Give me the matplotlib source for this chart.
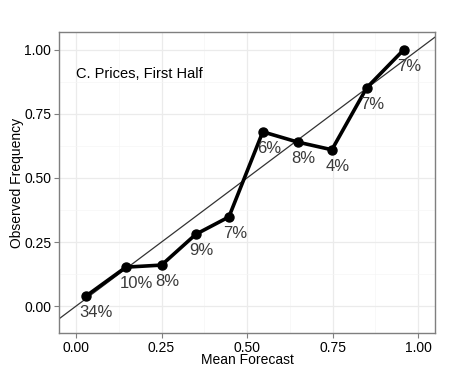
import matplotlib
matplotlib.use('Agg')
import matplotlib.pyplot as plt

plt.rcParams['font.family'] = ['Liberation Sans', 'DejaVu Sans']

# calibration data (mean forecast vs observed frequency)
forecast = [0.029, 0.146, 0.25, 0.35, 0.447, 0.546, 0.648, 0.748, 0.85, 0.958]
observed = [0.039, 0.152, 0.16, 0.28, 0.348, 0.68, 0.64, 0.61, 0.852, 1.0]
share = ['34%', '10%', '8%', '9%', '7%', '6%', '8%', '4%', '7%', '7%']
ticks = [0.0, 0.25, 0.5, 0.75, 1.0]
tick_labels = ['0.00', '0.25', '0.50', '0.75', '1.00']

fig = plt.figure(figsize=(4.5, 3.75), dpi=100)
ax = fig.add_axes([0.131, 0.112, 0.836, 0.803])

# grid like theme_bw
ax.set_xticks(ticks)
ax.set_yticks(ticks)
ax.set_xticks([0.125, 0.375, 0.625, 0.875], minor=True)
ax.set_yticks([0.125, 0.375, 0.625, 0.875], minor=True)
ax.grid(True, which='major', color='#ebebeb', lw=0.9)
ax.grid(True, which='minor', color='#f5f5f5', lw=0.5)
ax.set_axisbelow(True)
ax.tick_params(which='minor', length=0)
ax.tick_params(which='major', length=3.5, color='#7f7f7f', labelsize=10, pad=2)
ax.set_xticklabels(tick_labels)
ax.set_yticklabels(tick_labels)
for s in ax.spines.values():
    s.set_color('#7f7f7f')
    s.set_linewidth(1)

ax.axline((0, 0), slope=1, color='#333333', lw=0.9, zorder=2)
ax.plot(forecast, observed, color='black', lw=2.6, marker='o', ms=6.5, zorder=3)
for x, y, s in zip(forecast, observed, share):
    ax.text(x - 0.018, y - 0.035, s, ha='left', va='top', fontsize=12,
            color='#3a3a3a', zorder=4)

ax.text(0.0, 0.906, 'C. Prices, First Half', ha='left', va='center', fontsize=10.5)

ax.set_xlim(-0.05, 1.05)
ax.set_ylim(-0.105, 1.07)
ax.set_xlabel('Mean Forecast', fontsize=10, labelpad=-1)
ax.set_ylabel('Observed Frequency', fontsize=10, labelpad=0)

plt.savefig('out.png')
